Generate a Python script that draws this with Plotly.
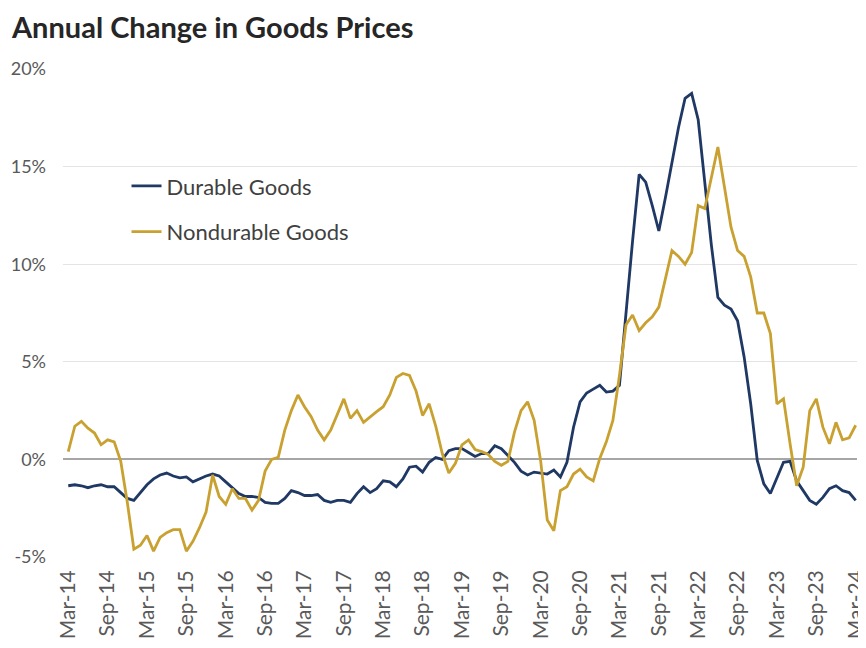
import plotly.graph_objects as go
import pandas as pd

months = pd.date_range("2014-03-01", "2024-03-01", freq="MS").strftime("%b-%y").tolist()

durable = [
    -1.35, -1.3, -1.35, -1.45, -1.35, -1.3, -1.4, -1.4, -1.7, -2.0,
    -2.1, -1.7, -1.3, -1.0, -0.8, -0.7, -0.85, -0.95, -0.9, -1.15,
    -1.0, -0.85, -0.75, -0.85, -1.15, -1.45, -1.75, -1.9, -1.9, -1.95,
    -2.2, -2.25, -2.25, -2.0, -1.6, -1.7, -1.85, -1.85, -1.8, -2.1,
    -2.2, -2.1, -2.1, -2.2, -1.75, -1.4, -1.7, -1.5, -1.1, -1.15,
    -1.4, -1.0, -0.4, -0.35, -0.65, -0.15, 0.1, 0.0, 0.45, 0.55,
    0.55, 0.35, 0.15, 0.3, 0.3, 0.7, 0.55, 0.2, -0.15, -0.6,
    -0.8, -0.65, -0.7, -0.75, -0.55, -0.9, -0.15, 1.65, 2.95, 3.4,
    3.6, 3.8, 3.45, 3.5, 3.8, 7.6, 11.2, 14.6, 14.2, 13.0,
    11.7, 13.4, 15.2, 17.0, 18.5, 18.75, 17.4, 14.2, 11.0, 8.3,
    7.9, 7.7, 7.1, 5.25, 2.85, -0.05, -1.25, -1.75, -0.9, -0.15,
    -0.1, -1.1, -1.6, -2.1, -2.3, -1.95, -1.5, -1.35, -1.6, -1.7,
    -2.1,
]

nondurable = [
    0.4, 1.7, 1.95, 1.6, 1.35, 0.75, 1.0, 0.9, -0.1, -2.2,
    -4.6, -4.4, -3.9, -4.7, -4.0, -3.75, -3.6, -3.6, -4.7, -4.2,
    -3.5, -2.7, -0.8, -1.9, -2.3, -1.5, -2.0, -2.0, -2.6, -2.1,
    -0.6, 0.0, 0.1, 1.5, 2.5, 3.3, 2.7, 2.2, 1.5, 1.0,
    1.5, 2.3, 3.1, 2.1, 2.5, 1.9, 2.2, 2.45, 2.7, 3.3,
    4.2, 4.4, 4.3, 3.5, 2.25, 2.85, 1.7, 0.3, -0.7, -0.2,
    0.75, 1.0, 0.5, 0.4, 0.25, -0.1, -0.3, -0.1, 1.4, 2.5,
    2.95, 2.0, -0.1, -3.1, -3.65, -1.6, -1.4, -0.75, -0.5, -0.9,
    -1.1, 0.05, 0.9, 2.0, 4.3, 6.9, 7.4, 6.6, 7.0, 7.3,
    7.8, 9.3, 10.7, 10.4, 10.0, 10.6, 13.0, 12.85, 14.5, 16.0,
    13.95, 11.9, 10.7, 10.4, 9.35, 7.5, 7.5, 6.45, 2.85, 3.1,
    0.8, -1.35, -0.4, 2.5, 3.1, 1.65, 0.8, 1.9, 1.0, 1.1,
    1.75,
]

tick_labels = [
    "Mar-14", "Sep-14", "Mar-15", "Sep-15", "Mar-16", "Sep-16", "Mar-17",
    "Sep-17", "Mar-18", "Sep-18", "Mar-19", "Sep-19", "Mar-20", "Sep-20",
    "Mar-21", "Sep-21", "Mar-22", "Sep-22", "Mar-23", "Sep-23", "Mar-24",
]
y_ticks = [-5, 0, 5, 10, 15, 20]
y_tick_text = ["-5%", "0%", "5%", "10%", "15%", "20%"]

FONT = "Lato"
BLUE = "#1F3864"
GOLD = "#C9A131"

fig = go.Figure()
fig.add_trace(go.Scatter(x=months, y=durable, mode="lines", name="Durable Goods",
                         legendgroup="a", line=dict(color=BLUE, width=2.8)))
fig.add_trace(go.Scatter(x=months, y=nondurable, mode="lines", name="Nondurable Goods",
                         legendgroup="b", line=dict(color=GOLD, width=2.8)))

fig.add_annotation(text="<b>Annual Change in Goods Prices</b>", xref="paper", yref="paper",
                   x=-0.068, y=1.0881, xanchor="left", yanchor="middle", showarrow=False,
                   font=dict(family=FONT, size=29, color="#262626"))

# page body has an 8px default margin, so the figure is 8px smaller and margins shifted
fig.update_layout(
    width=858, height=640,
    margin=dict(l=55, r=9, t=61, b=91),
    paper_bgcolor="white", plot_bgcolor="white",
    showlegend=True,
    legend=dict(x=0.080, y=0.803, xanchor="left", yanchor="top",
                bgcolor="rgba(0,0,0,0)", font=dict(family=FONT, size=22, color="#404040"),
                tracegroupgap=14, traceorder="grouped", itemwidth=30),
    xaxis=dict(type="category", range=[-0.8, 120.2], tickmode="array",
               tickvals=tick_labels, ticktext=tick_labels, tickangle=-90,
               showgrid=False, zeroline=False, showline=False, ticks="",
               automargin=False, ticklabelstandoff=8,
               tickfont=dict(family=FONT, size=21, color="#595959")),
    yaxis=dict(range=[-5, 20], tickmode="array", tickvals=y_ticks, ticktext=y_tick_text,
               showgrid=True, gridcolor="#E3E3E3", gridwidth=1,
               zeroline=True, zerolinecolor="#A6A6A6", zerolinewidth=1.6,
               ticks="", ticklabelstandoff=16, automargin=False,
               tickfont=dict(family=FONT, size=18, color="#595959")),
)

fig.write_html("out.html")
